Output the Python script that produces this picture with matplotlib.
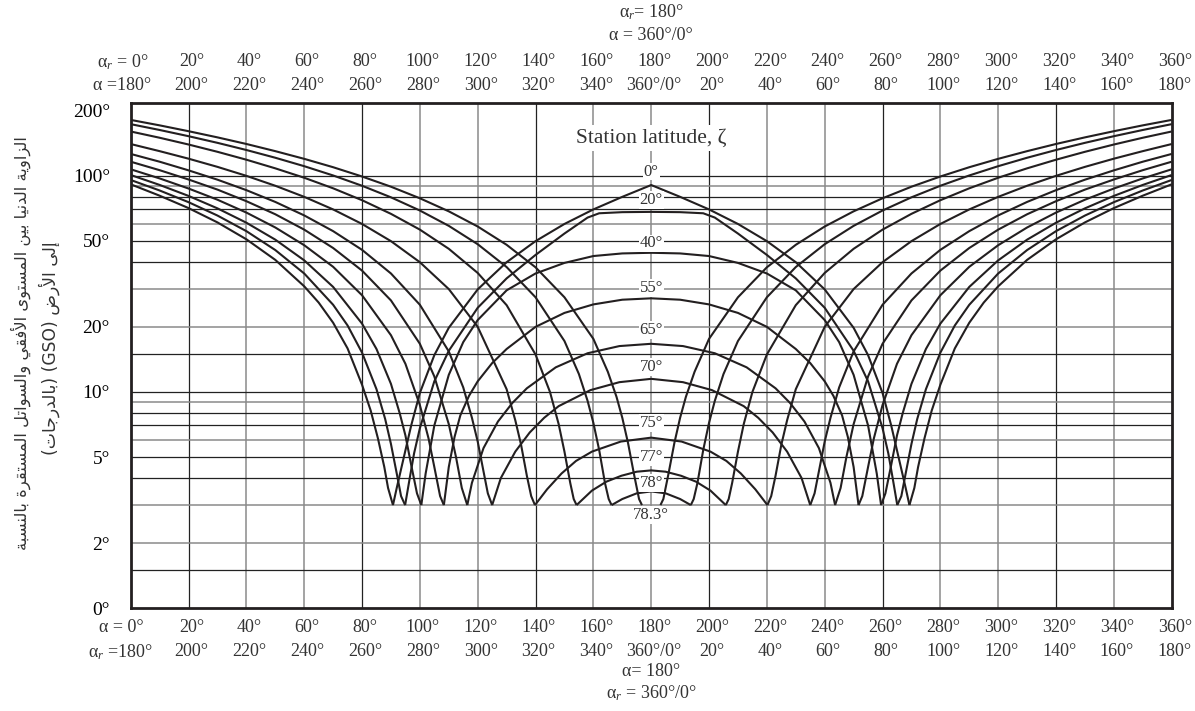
import re
import matplotlib
matplotlib.use('Agg')
import matplotlib.pyplot as plt
from matplotlib.transforms import blended_transform_factory, offset_copy

plt.rcParams['font.family'] = ['Liberation Serif', 'DejaVu Sans']
plt.rcParams['mathtext.fontset'] = 'custom'
plt.rcParams['mathtext.rm'] = 'Liberation Serif'
plt.rcParams['mathtext.it'] = 'Liberation Serif:italic'

# ---------------- data ----------------
lat_labels = ['0°', '20°', '40°', '55°', '65°', '70°', '75°', '77°', '78°', '78.3°']
lat_label_pos = [104.4, 77.2, 48.6, 30.3, 19.3, 13.0, 7.2, 5.0, 3.79, 2.70]

# station latitude 0°
left_az_0 = [0, 10, 20, 30, 40, 50, 60, 65, 70, 75, 80, 83, 85.5, 87.7, 89, 90.7]
left_ang_0 = [91.2, 80.8, 70.8, 60.8, 50.8, 40.8, 30.8, 25.9, 20.9, 15.9, 10.8, 8.2, 6.1, 4.5, 3.6, 3]
dome_az_0 = [90.7, 92, 94, 97, 100, 105, 110, 120, 130, 140, 150, 160, 170, 180,
             190, 200, 210, 220, 230, 240, 250, 255, 260, 263, 266, 268, 269.3]
dome_ang_0 = [3, 3.6, 4.7, 7.0, 9.9, 14.8, 19.8, 29.8, 39.8, 49.8, 59.8, 69.8, 79.8, 90.5,
              79.8, 69.8, 59.8, 49.8, 39.8, 29.8, 19.8, 14.8, 9.9, 7.0, 4.7, 3.6, 3]
right_az_0 = [269.3, 271, 272.3, 274.5, 277, 280, 285, 290, 295, 300, 310, 320, 330, 340, 350, 360]
right_ang_0 = [3, 3.6, 4.5, 6.1, 8.2, 10.8, 15.9, 20.9, 25.9, 30.8, 40.8, 50.8, 60.8, 70.8, 80.8, 91.2]

# station latitude 20°
left_az_20 = [0, 10, 20, 30, 40, 50, 60, 70, 75, 80, 85, 88, 90, 92, 93.5, 94.9]
left_ang_20 = [95.5, 85.4, 75.4, 65.4, 55.4, 45.3, 35.3, 25.3, 20.3, 15.2, 10.3, 7.5, 5.75, 4.2, 3.3, 3]
dome_az_20 = [94.9, 96.5, 98, 100, 105, 110, 120, 130, 140, 150, 158, 162, 170, 180,
              190, 198, 202, 210, 220, 230, 240, 250, 255, 260, 262, 263.5, 265.1]
dome_ang_20 = [3, 4, 5.2, 6.8, 11.2, 15.5, 24.5, 33.5, 43, 54, 64, 67, 67.8, 68,
               67.8, 67, 64, 54, 43, 33.5, 24.5, 15.5, 11.2, 6.8, 5.2, 4, 3]
right_az_20 = [265.1, 266.5, 268, 270, 272, 275, 280, 285, 290, 300, 310, 320, 330, 340, 350, 360]
right_ang_20 = [3, 3.3, 4.2, 5.75, 7.5, 10.3, 15.2, 20.3, 25.3, 35.3, 45.3, 55.4, 65.4, 75.4, 85.4, 95.5]

# station latitude 40°
left_az_40 = [0, 10, 20, 30, 40, 50, 60, 70, 80, 85, 90, 93, 95, 97, 99, 100.5]
left_ang_40 = [100.7, 90.6, 80.6, 70.6, 60.6, 50.6, 40.6, 30.6, 20.7, 15.8, 10.9, 8.0, 6.3, 4.6, 3.4, 3]
dome_az_40 = [100.5, 102, 105, 110, 115, 120, 130, 140, 150, 160, 170, 180,
              190, 200, 210, 220, 230, 240, 245, 250, 255, 258, 259.5]
dome_ang_40 = [3, 4.2, 7, 12, 17, 21.5, 29.5, 35.3, 39.5, 42.5, 43.7, 44,
               43.7, 42.5, 39.5, 35.3, 29.5, 21.5, 17, 12, 7, 4.2, 3]
right_az_40 = [259.5, 261, 263, 265, 267, 270, 275, 280, 290, 300, 310, 320, 330, 340, 350, 360]
right_ang_40 = [3, 3.4, 4.6, 6.3, 8.0, 10.9, 15.8, 20.7, 30.6, 40.6, 50.6, 60.6, 70.6, 80.6, 90.6, 100.7]

# station latitude 55°
left_az_55 = [0, 10, 20, 30, 40, 50, 60, 70, 80, 90, 95, 100, 103, 105, 107, 108.3]
left_ang_55 = [107, 97.1, 87.2, 77.4, 67.5, 57.6, 47.7, 37.9, 28.0, 18.3, 13.5, 8.7, 6.1, 4.5, 3.3, 3]
dome_az_55 = [108.3, 110, 112, 114, 117, 120, 125, 130, 140, 150, 160, 170, 180,
              190, 200, 210, 220, 230, 235, 240, 243, 246, 248, 250, 251.7]
dome_ang_55 = [3, 4.5, 6.2, 7.8, 9.6, 11.2, 13.6, 15.8, 20, 23.2, 25.4, 26.7, 27.1,
               26.7, 25.4, 23.2, 20, 15.8, 13.6, 11.2, 9.6, 7.8, 6.2, 4.5, 3]
right_az_55 = [251.7, 253, 255, 257, 260, 265, 270, 280, 290, 300, 310, 320, 330, 340, 350, 360]
right_ang_55 = [3, 3.3, 4.5, 6.1, 8.7, 13.5, 18.3, 28.0, 37.9, 47.7, 57.6, 67.5, 77.4, 87.2, 97.1, 107]

# station latitude 65°
left_az_65 = [0, 10, 20, 30, 40, 50, 60, 70, 80, 90, 100, 105, 110, 112.5, 114.5, 116.4]
left_ang_65 = [116, 106, 96, 86.2, 76.2, 66.3, 56.3, 46.3, 36.4, 26.5, 16.7, 11.8, 7.1, 5.0, 3.6, 3]
dome_az_65 = [116.4, 118, 122, 127, 132, 137, 147, 158, 169, 180,
              191, 202, 213, 223, 228, 233, 238, 242, 243.6]
dome_ang_65 = [3, 3.8, 5.5, 7.3, 8.9, 10.4, 13, 15.1, 16.3, 16.7,
               16.3, 15.1, 13, 10.4, 8.9, 7.3, 5.5, 3.8, 3]
right_az_65 = [243.6, 245.5, 247.5, 250, 255, 260, 270, 280, 290, 300, 310, 320, 330, 340, 350, 360]
right_ang_65 = [3, 3.6, 5.0, 7.1, 11.8, 16.7, 26.5, 36.4, 46.3, 56.3, 66.3, 76.2, 86.2, 96, 106, 116]

# station latitude 70°
left_az_70 = [0, 10, 20, 30, 40, 50, 60, 70, 80, 90, 100, 110, 115, 118, 120, 122, 123.5, 125]
left_ang_70 = [126, 116, 105.8, 95.8, 85.7, 75.6, 65.5, 55.4, 45.4, 35.3, 25.3, 15.4, 10.5, 7.6, 5.9, 4.3, 3.4, 3]
dome_az_70 = [125, 128, 133, 138, 143, 148, 159, 169, 180, 191, 201, 212, 217, 222, 227, 232, 235]
dome_ang_70 = [3, 4, 5.3, 6.5, 7.6, 8.6, 10.2, 11.1, 11.5, 11.1, 10.2, 8.6, 7.6, 6.5, 5.3, 4, 3]
right_az_70 = [235, 236.5, 238, 240, 242, 245, 250, 260, 270, 280, 290, 300, 310, 320, 330, 340, 350, 360]
right_ang_70 = [3, 3.4, 4.3, 5.9, 7.6, 10.5, 15.4, 25.3, 35.3, 45.4, 55.4, 65.5, 75.6, 85.7, 95.8, 105.8, 116, 126]

# station latitude 75°
left_az_75 = [0, 10, 20, 30, 40, 50, 60, 70, 80, 90, 100, 110, 120, 130, 133, 135, 137, 138.5, 139.8]
left_ang_75 = [140, 129.8, 119.8, 109.8, 99.8, 89.8, 79.8, 69.8, 59.8, 49.8, 39.8, 29.9, 20.0, 10.3, 7.4, 5.7, 4.1, 3.3, 3]
dome_az_75 = [139.8, 144, 149, 154, 159.5, 169.5, 180, 190.5, 200.5, 206, 211, 216, 220.2]
dome_ang_75 = [3, 3.55, 4.2, 4.8, 5.3, 5.9, 6.15, 5.9, 5.3, 4.8, 4.2, 3.55, 3]
right_az_75 = [220.2, 221.5, 223, 225, 227, 230, 240, 250, 260, 270, 280, 290, 300, 310, 320, 330, 340, 350, 360]
right_ang_75 = [3, 3.3, 4.1, 5.7, 7.4, 10.3, 20.0, 29.9, 39.8, 49.8, 59.8, 69.8, 79.8, 89.8, 99.8, 109.8, 119.8, 129.8, 140]

# station latitude 77°
left_az_77 = [0, 10, 20, 30, 40, 50, 60, 70, 80, 90, 100, 110, 120, 130, 140, 145, 148, 150, 152, 153.2, 154.2]
left_ang_77 = [160, 149.7, 139.3, 128.9, 118.5, 108.1, 97.8, 87.4, 77.0, 66.6, 56.3, 45.9, 35.5, 25.2, 14.9,
               10.0, 7.1, 5.3, 3.8, 3.2, 3]
dome_az_77 = [154.2, 159.5, 164.5, 169.7, 175, 180, 185, 190.3, 195.5, 200.5, 205.8]
dome_ang_77 = [3, 3.5, 3.85, 4.1, 4.28, 4.34, 4.28, 4.1, 3.85, 3.5, 3]
right_az_77 = [205.8, 206.8, 208, 210, 212, 215, 220, 230, 240, 250, 260, 270, 280, 290, 300, 310, 320, 330, 340, 350, 360]
right_ang_77 = [3, 3.2, 3.8, 5.3, 7.1, 10.0, 14.9, 25.2, 35.5, 45.9, 56.3, 66.6, 77.0, 87.4, 97.8, 108.1, 118.5,
                128.9, 139.3, 149.7, 160]

# station latitude 78°
left_az_78 = [0, 10, 20, 30, 40, 50, 60, 70, 80, 90, 100, 110, 120, 130, 140, 150,
              155, 158, 160, 162, 164, 165.3, 166.3]
left_ang_78 = [173, 162.6, 152.2, 141.8, 131.4, 121, 110.6, 100.2, 89.8, 79.4, 69, 58.6, 48.2, 37.8, 27.4, 17.2,
               12.1, 9.1, 7.2, 5.4, 3.8, 3.2, 3]
dome_az_78 = [166.3, 170, 175, 180, 185, 190, 193.7]
dome_ang_78 = [3, 3.2, 3.4, 3.47, 3.4, 3.2, 3]
right_az_78 = [193.7, 194.7, 196, 198, 200, 202, 205, 210, 220, 230, 240, 250, 260, 270, 280, 290, 300, 310,
               320, 330, 340, 350, 360]
right_ang_78 = [3, 3.2, 3.8, 5.4, 7.2, 9.1, 12.1, 17.2, 27.4, 37.8, 48.2, 58.6, 69, 79.4, 89.8, 100.2, 110.6, 121,
                131.4, 141.8, 152.2, 162.6, 173]

# station latitude 78.3°
left_az_783 = [0, 10, 20, 30, 40, 50, 60, 70, 80, 90, 100, 110, 120, 130, 140, 150, 160,
               165, 168, 170, 172, 174, 175.8, 176.8]
left_ang_783 = [181, 170.8, 160.5, 150.3, 140.1, 129.8, 119.6, 109.4, 99.1, 88.9, 78.6, 68.4, 58.2, 47.9, 37.7,
                27.4, 17.6, 12.4, 9.5, 7.6, 5.8, 4.2, 3.2, 3]
right_az_783 = [183.2, 184.2, 186, 188, 190, 192, 195, 200, 210, 220, 230, 240, 250, 260, 270, 280, 290, 300,
                310, 320, 330, 340, 350, 360]
right_ang_783 = [3, 3.2, 4.2, 5.8, 7.6, 9.5, 12.4, 17.6, 27.4, 37.7, 47.9, 58.2, 68.4, 78.6, 88.9, 99.1, 109.4,
                 119.6, 129.8, 140.1, 150.3, 160.5, 170.8, 181]

x_grid = [20, 40, 60, 80, 100, 120, 140, 160, 180, 200, 220, 240, 260, 280, 300, 320, 340]
x_grid_dark = [20, 80, 140, 200, 260, 320]
y_grid = [1.5, 2, 3, 4, 5, 6, 7, 8, 9, 10, 15, 20, 30, 40, 50, 60, 70, 80, 90, 100]
y_grid_light = [2, 3, 6, 9, 20, 30, 60, 90]
y_ticks = [1, 2, 5, 10, 20, 50, 100, 200]
y_tick_labels = ['0°', '2°', '5°', '10°', '20°', '50°', '100°', '200°']

x_label_pos = [0, 20, 40, 60, 80, 100, 120, 140, 160, 180, 200, 220, 240, 260, 280, 300, 320, 340, 360]
top_row1 = ['0°', '20°', '40°', '60°', '80°', '100°', '120°', '140°', '160°', '180°', '200°', '220°',
            '240°', '260°', '280°', '300°', '320°', '340°', '360°']
top_row2 = ['180°', '200°', '220°', '240°', '260°', '280°', '300°', '320°', '340°', '360°/0°', '20°', '40°',
            '60°', '80°', '100°', '120°', '140°', '160°', '180°']
bottom_row1 = list(top_row1)
bottom_row2 = list(top_row2)

y_label_line1 = 'الزاوية الدنيا بين المستوى الأفقي والسواتل المستقرة بالنسبة'
y_label_line2 = 'إلى الأرض (GSO) (بالدرجات)'

# ---------------- Arabic shaping helper (presentation forms) ----------------
AR_FORMS = {
    'ا': (0xFE8D, 0xFE8E, None, None), 'أ': (0xFE83, 0xFE84, None, None),
    'إ': (0xFE87, 0xFE88, None, None), 'آ': (0xFE81, 0xFE82, None, None),
    'ب': (0xFE8F, 0xFE90, 0xFE91, 0xFE92), 'ة': (0xFE93, 0xFE94, None, None),
    'ت': (0xFE95, 0xFE96, 0xFE97, 0xFE98), 'ج': (0xFE9D, 0xFE9E, 0xFE9F, 0xFEA0),
    'د': (0xFEA9, 0xFEAA, None, None), 'ر': (0xFEAD, 0xFEAE, None, None),
    'ز': (0xFEAF, 0xFEB0, None, None), 'س': (0xFEB1, 0xFEB2, 0xFEB3, 0xFEB4),
    'ض': (0xFEBD, 0xFEBE, 0xFEBF, 0xFEC0), 'ف': (0xFED1, 0xFED2, 0xFED3, 0xFED4),
    'ق': (0xFED5, 0xFED6, 0xFED7, 0xFED8), 'ل': (0xFEDD, 0xFEDE, 0xFEDF, 0xFEE0),
    'م': (0xFEE1, 0xFEE2, 0xFEE3, 0xFEE4), 'ن': (0xFEE5, 0xFEE6, 0xFEE7, 0xFEE8),
    'و': (0xFEED, 0xFEEE, None, None), 'ى': (0xFEEF, 0xFEF0, None, None),
    'ي': (0xFEF1, 0xFEF2, 0xFEF3, 0xFEF4),
}
LAM_ALEF = {'ا': (0xFEFB, 0xFEFC), 'أ': (0xFEF7, 0xFEF8), 'إ': (0xFEF9, 0xFEFA), 'آ': (0xFEF5, 0xFEF6)}


def shape_arabic(text):
    units = []
    i = 0
    while i < len(text):
        c = text[i]
        if c == 'ل' and i + 1 < len(text) and text[i + 1] in LAM_ALEF:
            units.append(('LA', text[i + 1]))
            i += 2
        else:
            units.append(('C', c))
            i += 1

    def is_ar(u):
        return u is not None and (u[0] == 'LA' or u[1] in AR_FORMS)

    def dual(u):
        return u is not None and u[0] == 'C' and u[1] in AR_FORMS and AR_FORMS[u[1]][2] is not None

    out = []
    for k, u in enumerate(units):
        prev = units[k - 1] if k > 0 else None
        nxt = units[k + 1] if k + 1 < len(units) else None
        con_prev = is_ar(u) and is_ar(prev) and dual(prev)
        con_next = is_ar(nxt) and dual(u)
        if u[0] == 'LA':
            iso, fin = LAM_ALEF[u[1]]
            out.append(chr(fin if con_prev else iso))
        elif u[1] in AR_FORMS:
            iso, fin, ini, med = AR_FORMS[u[1]]
            if con_prev and con_next:
                g = med
            elif con_prev:
                g = fin
            elif con_next:
                g = ini
            else:
                g = iso
            out.append(chr(g))
        else:
            out.append(u[1])
    s = ''.join(out)[::-1]
    s = re.sub(r'[A-Za-z0-9]+', lambda m: m.group(0)[::-1], s)
    return s.translate(str.maketrans('()', ')('))


# ---------------- figure ----------------
W, H = 1195, 711
fig = plt.figure(figsize=(W / 100, H / 100), dpi=100)
ax = fig.add_axes([130.7 / W, 1 - 608.3 / H, 1041 / W, 505 / H])
ax.set_yscale('log')
ax.set_xlim(0, 360)
ax.set_ylim(1, 216)

INK = '#231f20'
for xv in x_grid:
    dark = xv in x_grid_dark
    ax.axvline(xv, color='#222222' if dark else '#8a8a8a', lw=0.9 if dark else 1.1, zorder=1)
for yv in y_grid:
    light = yv in y_grid_light
    ax.axhline(yv, color='#8a8a8a' if light else '#222222', lw=1.1 if light else 0.9, zorder=1)

curves = [
    (left_az_0, left_ang_0), (dome_az_0, dome_ang_0), (right_az_0, right_ang_0),
    (left_az_20, left_ang_20), (dome_az_20, dome_ang_20), (right_az_20, right_ang_20),
    (left_az_40, left_ang_40), (dome_az_40, dome_ang_40), (right_az_40, right_ang_40),
    (left_az_55, left_ang_55), (dome_az_55, dome_ang_55), (right_az_55, right_ang_55),
    (left_az_65, left_ang_65), (dome_az_65, dome_ang_65), (right_az_65, right_ang_65),
    (left_az_70, left_ang_70), (dome_az_70, dome_ang_70), (right_az_70, right_ang_70),
    (left_az_75, left_ang_75), (dome_az_75, dome_ang_75), (right_az_75, right_ang_75),
    (left_az_77, left_ang_77), (dome_az_77, dome_ang_77), (right_az_77, right_ang_77),
    (left_az_78, left_ang_78), (dome_az_78, dome_ang_78), (right_az_78, right_ang_78),
    (left_az_783, left_ang_783), (right_az_783, right_ang_783),
]
for xs, ys in curves:
    ax.plot(xs, ys, color=INK, lw=1.5, zorder=3, solid_joinstyle='round', solid_capstyle='butt')

for lab, yv in zip(lat_labels, lat_label_pos):
    ax.text(180, yv, lab, ha='center', va='center', fontsize=12, color='#333333', zorder=4,
            bbox=dict(boxstyle='square,pad=0.05', fc='white', ec='none'))
ax.text(180, 149, 'Station latitude, ζ', ha='center', va='center', fontsize=15.5, color='#333333',
        zorder=4, bbox=dict(boxstyle='square,pad=0.15', fc='white', ec='none'))

ax.set_yticks(y_ticks)
ax.set_yticklabels(y_tick_labels, fontsize=14)
ax.minorticks_off()
ax.set_xticks([])
ax.tick_params(axis='y', length=0, pad=15)
for sp in ax.spines.values():
    sp.set_linewidth(2.0)
    sp.set_color(INK)
    sp.set_zorder(5)

# azimuth labels above and below
tr = blended_transform_factory(ax.transData, fig.transFigure)
tr_c = offset_copy(tr, fig=fig, x=3, y=0, units='dots')
FS = 13


def row(labels, ypix, first_prefix, first_shift):
    for k, (xv, lab) in enumerate(zip(x_label_pos, labels)):
        if k == 0:
            t = offset_copy(tr, fig=fig, x=first_shift, y=0, units='dots')
            fig.text(xv, 1 - ypix / H, first_prefix + lab, transform=t, ha='right', va='center',
                     fontsize=FS, color='#333333')
        else:
            fig.text(xv, 1 - ypix / H, lab, transform=tr_c, ha='center', va='center',
                     fontsize=FS, color='#333333')


row(top_row1, 62, 'α$_r$ = ', 18)
row(top_row2, 85, 'α =', 20)
row(bottom_row1, 627, 'α = ', 13)
row(bottom_row2, 652, 'α$_r$ =', 22)

fig.text(180, 1 - 12 / H, 'α$_r$= 180°', transform=tr, ha='center', va='center', fontsize=FS, color='#333333')
fig.text(180, 1 - 35 / H, 'α = 360°/0°', transform=tr, ha='center', va='center', fontsize=FS, color='#333333')
fig.text(180, 1 - 671 / H, 'α= 180°', transform=tr, ha='center', va='center', fontsize=FS, color='#333333')
fig.text(180, 1 - 693 / H, 'α$_r$ = 360°/0°', transform=tr, ha='center', va='center', fontsize=FS, color='#333333')

# Arabic y-axis title (two lines, rotated)
fig.text(21 / W, 1 - 343 / H, shape_arabic(y_label_line1), rotation=90, ha='center', va='center',
         fontsize=11.8, family=['DejaVu Sans'], color='#333333')
fig.text(49 / W, 1 - 348 / H, shape_arabic(y_label_line2), rotation=90, ha='center', va='center',
         fontsize=12.3, family=['DejaVu Sans'], color='#333333')

fig.savefig('out.png', dpi=100)
